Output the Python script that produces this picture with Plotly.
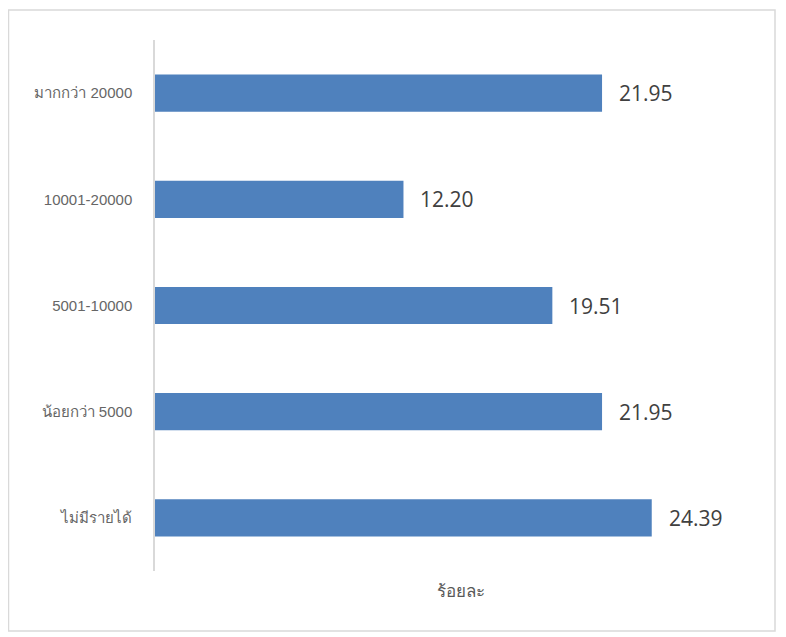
import plotly.graph_objects as go

categories = ["ไม่มีรายได้", "น้อยกว่า 5000", "5001-10000", "10001-20000", "มากกว่า 20000"]
values = [24.39, 21.95, 19.51, 12.20, 21.95]
labels = ["24.39", "21.95", "19.51", "12.20", "21.95"]
x_title = "ร้อยละ"

# page has an 8px body margin, so the figure is drawn 8px smaller
W, H = 778, 629
L, R, T, B = 147, 20, 32, 66
pw, ph = W - L - R, H - T - B

fig = go.Figure()
fig.add_trace(go.Bar(
    y=categories, x=values, orientation="h",
    marker=dict(color="#4f81bd", line=dict(width=0)),
    hoverinfo="skip",
))

for c, v, t in zip(categories, values, labels):
    fig.add_annotation(x=v, y=c, text=t, showarrow=False, xanchor="left",
                       xshift=15, font=dict(size=21, color="#404040",
                                           family="Open Sans, Noto Sans, sans-serif"))

# outer chart border
fig.add_shape(type="rect", xref="paper", yref="paper",
              x0=(0.5 - L) / pw, x1=(767 - L) / pw,
              y0=(H - B - 623) / ph, y1=(H - B - 2) / ph,
              line=dict(color="#d9d9d9", width=1.5), fillcolor="rgba(0,0,0,0)",
              layer="below")

fig.update_layout(
    width=W, height=H,
    margin=dict(l=L, r=R, t=T, b=B),
    paper_bgcolor="white", plot_bgcolor="white",
    bargap=0.65,
    showlegend=False,
    font=dict(family="Noto Sans, Liberation Sans, sans-serif", color="#595959"),
    xaxis=dict(range=[0, 30], showgrid=False, zeroline=False, showline=False,
               showticklabels=False, ticks="",
               title=dict(text=x_title, standoff=14,
                          font=dict(size=17, color="#595959"))),
    yaxis=dict(showgrid=False, zeroline=False, showline=True, linecolor="#d9d9d9",
               linewidth=1.5, ticks="", ticklabelstandoff=18,
               tickfont=dict(size=15, color="#666666",
                             family="Liberation Sans, Noto Sans, sans-serif")),
)

fig.write_html("out.html")
